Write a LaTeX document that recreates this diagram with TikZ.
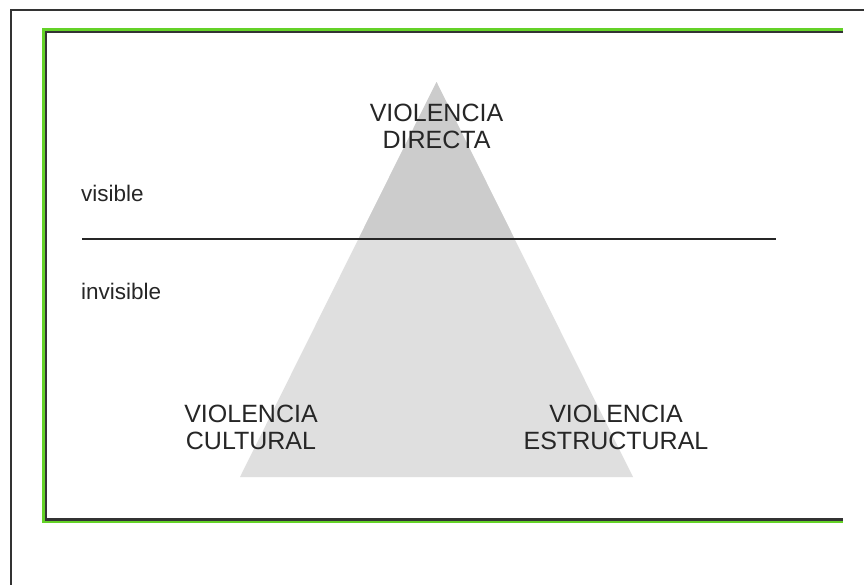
\documentclass[tikz,border=0pt]{standalone}
\usepackage{fontspec}
\setmainfont{Liberation Sans}
\usepackage{tikz}
\usetikzlibrary{positioning}
\usetikzlibrary{calc}
\definecolor{frameGreen}{RGB}{100,210,40}
\tikzset{myCaps/.style={align=center, font=\fontsize{25}{27}\selectfont, text=black!85, inner sep=0pt}}
\tikzset{myLevel/.style={anchor=west, font=\fontsize{22.5}{26}\selectfont, text=black!85, inner sep=0pt}}
\tikzset{myFrame/.style={line width=2.5pt, black!80}}

\begin{document}
\begin{tikzpicture}[x=1pt, y=-1pt]

\useasboundingbox (0,0) rectangle (864,584);
\fill[white] (0,0) rectangle (864,584);

\draw[line width=2pt, black!80] (11,590) -- (11,10) -- (870,10);

\draw[line width=2.5pt, frameGreen] (843,29.5) -- (43.5,29.5) -- (43.5,522) -- (843,522);
\draw[myFrame] (843,32) -- (46,32) -- (46,519.5) -- (843,519.5);

\coordinate (apex) at (436.5,82);
\coordinate (baseL) at (240,477);
\coordinate (baseR) at (633,477);
\coordinate (lineL) at (82,239);
\coordinate (lineR) at (776,239);

\fill[gray!25] (apex) -- (baseL) -- (baseR) -- cycle;
\begin{scope}
\clip (0,0) rectangle (864,239);
\fill[gray!40] (apex) -- (baseL) -- (baseR) -- cycle;
\end{scope}

\draw[line width=1.3pt, black!85] (lineL) -- (lineR);

\node[myCaps] (directa) at (436.5,126) {VIOLENCIA\\DIRECTA};
\node[myCaps] (cultural) at (251,427) {VIOLENCIA\\CULTURAL};
\node[myCaps] (estructural) at (616,427) {VIOLENCIA\\ESTRUCTURAL};

\node[myLevel] (visible) at (81,193) {visible};
\node[myLevel] (invisible) at (81,291) {invisible};

\end{tikzpicture}
\end{document}
